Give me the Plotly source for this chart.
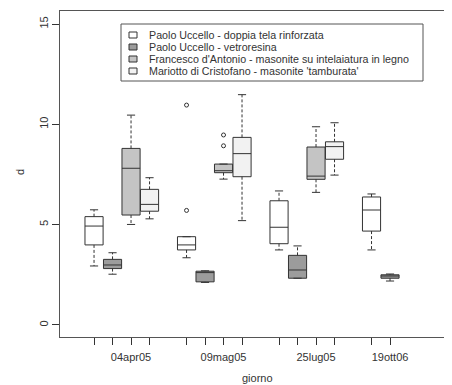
import plotly.graph_objects as go

# ---- data ----
days = ["04apr05", "09mag05", "25lug05", "19ott06"]
series_names = [
    "Paolo Uccello - doppia tela rinforzata",
    "Paolo Uccello - vetroresina",
    "Francesco d'Antonio - masonite su intelaiatura in legno",
    "Mariotto di Cristofano - masonite 'tamburata'",
]
series_colors = ["#ffffff", "#9c9c9c", "#c4c4c4", "#f2f2f2"]

# box positions on the x scale (groups of four, one slot left empty between days)
pos_s1 = [1, 6, 11, 16]
pos_s2 = [2, 7, 12, 17]
pos_s3 = [3, 8, 13]
pos_s4 = [4, 9, 14]

# series 1: doppia tela rinforzata
s1_low = [2.94, 3.35, 3.74, 3.74]
s1_q1 = [3.99, 3.74, 4.05, 4.68]
s1_med = [4.93, 3.99, 4.87, 5.73]
s1_q3 = [5.40, 4.40, 6.19, 6.38]
s1_high = [5.74, 4.40, 6.68, 6.53]
s1_out_x = [6, 6]
s1_out_y = [10.96, 5.71]

# series 2: vetroresina
s2_low = [2.53, 2.12, 2.33, 2.19]
s2_q1 = [2.81, 2.15, 2.33, 2.33]
s2_med = [2.99, 2.61, 2.74, 2.44]
s2_q3 = [3.27, 2.68, 3.47, 2.50]
s2_high = [3.60, 2.70, 3.94, 2.54]

# series 3: masonite su intelaiatura in legno
s3_low = [5.01, 7.27, 6.61]
s3_q1 = [5.48, 7.59, 7.26]
s3_med = [7.81, 7.69, 7.42]
s3_q3 = [8.80, 8.02, 8.87]
s3_high = [10.46, 8.02, 9.88]
s3_out_x = [8, 8]
s3_out_y = [9.47, 8.93]

# series 4: masonite 'tamburata'
s4_low = [5.29, 5.20, 7.47]
s4_q1 = [5.67, 7.39, 8.26]
s4_med = [6.01, 8.54, 8.89]
s4_q3 = [6.76, 9.35, 9.13]
s4_high = [7.34, 11.48, 10.08]

tick_positions = [1, 2, 3, 4, 6, 7, 8, 9, 11, 12, 13, 14, 16, 17]
tick_labels = ["", "", "04apr05", "", "", "", "09mag05", "", "", "", "25lug05", "", "", "19ott06"]
y_ticks = [0, 5, 10, 15]

# ---- styling ----
FONT = "Liberation Sans, Arial, sans-serif"
INK = "#333333"
BOX_W = 0.98
CAP_HALF = 0.22

# the page body adds an 8px offset; figure sized so the plot lands where the reference has it
PAGE_OFF = 8
FIG_W, FIG_H = 452 - PAGE_OFF, 385 - PAGE_OFF
PLOT_L, PLOT_R, PLOT_T, PLOT_B = 60, 452, 11, 337  # page pixels

fig = go.Figure()

all_series = [
    (pos_s1, s1_low, s1_q1, s1_med, s1_q3, s1_high),
    (pos_s2, s2_low, s2_q1, s2_med, s2_q3, s2_high),
    (pos_s3, s3_low, s3_q1, s3_med, s3_q3, s3_high),
    (pos_s4, s4_low, s4_q1, s4_med, s4_q3, s4_high),
]

for i, (pos, lo, q1, med, q3, hi) in enumerate(all_series):
    # dashed whiskers
    wx, wy, cx, cy = [], [], [], []
    for p, a, b, c, d in zip(pos, lo, q1, q3, hi):
        wx += [p, p, None, p, p, None]
        wy += [c, d, None, b, a, None]
        cx += [p - CAP_HALF, p + CAP_HALF, None, p - CAP_HALF, p + CAP_HALF, None]
        cy += [d, d, None, a, a, None]
    fig.add_trace(go.Scatter(x=wx, y=wy, mode="lines", showlegend=False,
                             line=dict(color=INK, width=1, dash="3px,2px"),
                             hoverinfo="skip"))
    fig.add_trace(go.Scatter(x=cx, y=cy, mode="lines", showlegend=False,
                             line=dict(color=INK, width=1), hoverinfo="skip"))
    # boxes
    fig.add_trace(go.Box(
        x=pos, q1=q1, median=med, q3=q3, lowerfence=q1, upperfence=q3,
        name=series_names[i], width=BOX_W, whiskerwidth=0,
        fillcolor=series_colors[i], line=dict(color=INK, width=1),
        boxpoints=False, showlegend=False,
    ))

# outliers
fig.add_trace(go.Scatter(x=s1_out_x + s3_out_x, y=s1_out_y + s3_out_y, mode="markers",
                         showlegend=False,
                         marker=dict(symbol="circle-open", size=4, color=INK,
                                     line=dict(width=1))))


def px_x(px):
    return (px - PLOT_L) / (PLOT_R - PLOT_L)


def px_y(py):
    return (PLOT_B - py) / (PLOT_B - PLOT_T)


# ---- manual legend (R-style compact legend box) ----
shapes = [dict(type="rect", xref="paper", yref="paper",
               x0=px_x(121), x1=px_x(423), y0=px_y(81), y1=px_y(24),
               line=dict(color="#555555", width=1), fillcolor="white", layer="above")]
annotations = []
row_y = [35, 47, 59, 71]
for name, col, ry in zip(series_names, series_colors, row_y):
    shapes.append(dict(type="rect", xref="paper", yref="paper",
                       x0=px_x(129), x1=px_x(137), y0=px_y(ry + 3), y1=px_y(ry - 3),
                       line=dict(color=INK, width=1), fillcolor=col, layer="above"))
    annotations.append(dict(text=name, xref="paper", yref="paper",
                            x=px_x(147), y=px_y(ry), xanchor="left", yanchor="middle",
                            showarrow=False, font=dict(family=FONT, size=10.7, color=INK)))

# axis titles placed like R's margin text
annotations.append(dict(text="giorno", xref="paper", yref="paper", x=px_x(258), y=px_y(378),
                        xanchor="center", yanchor="middle", showarrow=False,
                        font=dict(family=FONT, size=11, color=INK)))
annotations.append(dict(text="d", xref="paper", yref="paper", x=px_x(20), y=px_y(172),
                        xanchor="center", yanchor="middle", showarrow=False, textangle=-90,
                        font=dict(family=FONT, size=11, color=INK)))

fig.update_layout(
    width=FIG_W, height=FIG_H,
    margin=dict(l=PLOT_L - PAGE_OFF, r=0, t=PLOT_T - PAGE_OFF,
                b=FIG_H - (PLOT_B - PAGE_OFF), autoexpand=False),
    paper_bgcolor="white", plot_bgcolor="white",
    boxmode="overlay",
    font=dict(family=FONT, size=11, color=INK),
    shapes=shapes, annotations=annotations,
    showlegend=False,
)
fig.update_xaxes(
    range=[-0.84, 20.35], tickmode="array", tickvals=tick_positions, ticktext=tick_labels,
    ticks="outside", ticklen=7, tickcolor=INK, showgrid=False, zeroline=False,
    showline=True, linecolor="#555555", linewidth=1, mirror=True, automargin=False,
    tickfont=dict(family=FONT, size=11, color=INK), ticklabelstandoff=3,
)
fig.update_yaxes(
    range=[-0.6, 15.65], tickmode="array", tickvals=y_ticks,
    ticks="outside", ticklen=7, tickcolor=INK, showgrid=False, zeroline=False,
    showline=True, linecolor="#555555", linewidth=1, mirror=False, automargin=False,
    tickangle=-90, tickfont=dict(family=FONT, size=11, color=INK),
)

fig.write_html("out.html")
